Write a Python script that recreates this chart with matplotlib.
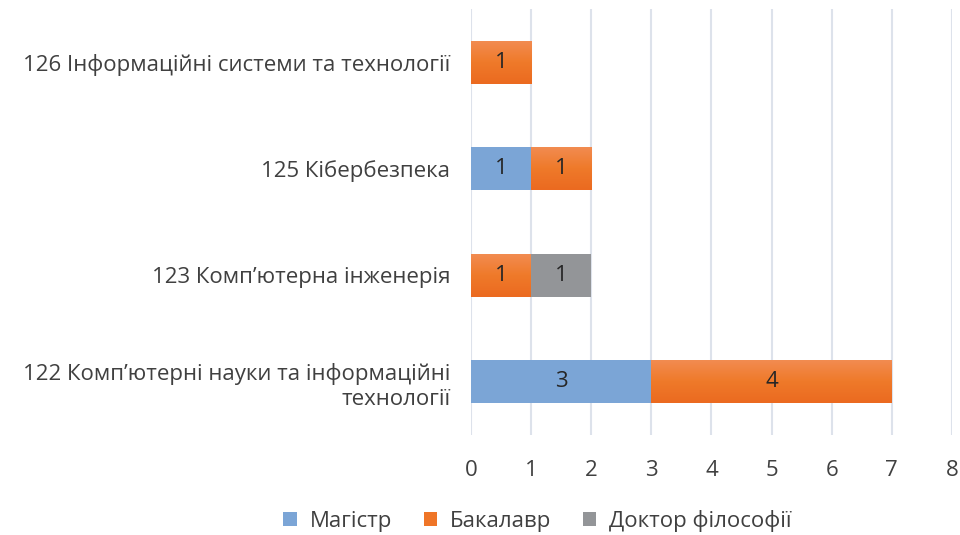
import numpy as np
import matplotlib.pyplot as plt
from matplotlib.patches import Patch
from matplotlib.colors import LinearSegmentedColormap

categories = ['122 Комп’ютерні науки та інформаційні\nтехнології',
              '123 Комп’ютерна інженерія',
              '125 Кібербезпека',
              '126 Інформаційні системи та технології']
series = ['Магістр', 'Бакалавр', 'Доктор філософії']
magistr = [3, 0, 1, 0]
bakalavr = [4, 1, 1, 1]
doktor = [0, 1, 0, 0]
colors = ['#7BA5D6', '#EF7527', '#939598']

plt.rcParams['font.family'] = ['Open Sans', 'DejaVu Sans']
text_color = '#404040'
fs = 16

fig = plt.figure(figsize=(9.6, 5.35), dpi=100)
ax = fig.add_axes([0.4906, 0.1875, 0.501, 0.795])

y = np.arange(len(categories))
h = 0.405
left = np.zeros(len(categories))
# orange bars get a light-to-dark vertical gradient
cmap = LinearSegmentedColormap.from_list('og', ['#F28C52', '#EF7A2A', '#EB6A20'])
grad = np.linspace(0, 1, 64).reshape(-1, 1)
for name, vals, col in zip(series, [magistr, bakalavr, doktor], colors):
    vals = np.array(vals, dtype=float)
    bars = ax.barh(y, vals, height=h, left=left, color=col, label=name, zorder=3)
    if name == 'Бакалавр':
        for b, v in zip(bars, vals):
            if v <= 0:
                continue
            b.set_facecolor('none')
            x0, y0 = b.get_x(), b.get_y()
            im = ax.imshow(grad, cmap=cmap, aspect='auto', origin='upper',
                           extent=[x0, x0 + b.get_width(), y0, y0 + b.get_height()],
                           zorder=2.9)
            im.set_clip_path(b)
    for i, v in enumerate(vals):
        if v > 0:
            ax.text(left[i] + v / 2, y[i], f'{int(v)}', ha='center', va='center',
                    fontsize=fs, color='#262626', zorder=4)
    left += vals

ax.set_xlim(0, 8)
ax.set_ylim(-0.5, len(categories) - 0.5)
ax.set_xticks(range(0, 9))
ax.set_yticks(y)
ax.set_yticklabels(categories, fontsize=fs, color=text_color, ha='right', linespacing=1.3)
ax.tick_params(axis='x', labelsize=fs, colors=text_color, length=0, pad=18)
ax.tick_params(axis='y', length=0, pad=15)
ax.grid(axis='x', color='#DDE2EB', linewidth=1.5, zorder=0)
for s in ax.spines.values():
    s.set_visible(False)

handles = [Patch(facecolor=c, label=s) for s, c in zip(series, colors)]
fig.legend(handles=handles, loc='center', bbox_to_anchor=(0.56, 0.026), ncol=3,
           frameon=False, fontsize=fs, handlelength=0.6, handleheight=0.6,
           handletextpad=0.6, columnspacing=1.4, labelcolor=text_color)

fig.savefig('out.png', dpi=100)
